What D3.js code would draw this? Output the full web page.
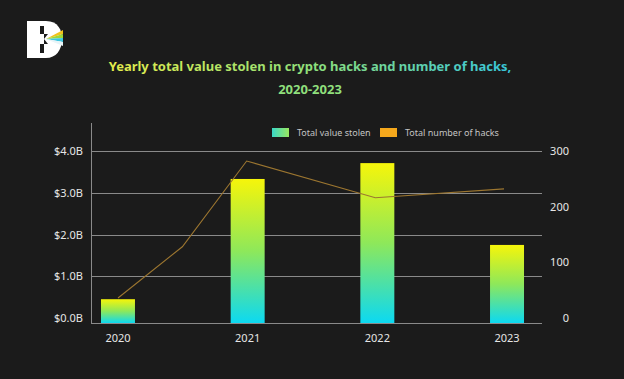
<!DOCTYPE html>
<html lang="en">
<head>
<meta charset="utf-8">
<title>Crypto hacks 2020-2023</title>
<script src="https://cdn.jsdelivr.net/npm/d3@7"></script>
<style>
body{
  margin: 0;
  background: #1b1b1b;
}
svg text{
  font-family: "Noto Sans", sans-serif;
}
.axis text{
  fill: #e6e6e6;
  font-size: 11px;
}
.axis path, .axis line{
  stroke: none;
}
.grid line{
  stroke: #8a8a8a;
  stroke-width: 1;
}
</style>
</head>
<body>
<div id="chart"></div>
<script>
// data
var years = ["2020", "2021", "2022", "2023"];
var valueStolen = [0.45, 3.33, 3.71, 1.75];          // billions USD
var hackYears = [2020, 2020.5, 2021, 2022, 2023];
var hackCounts = [36, 128, 282, 216, 232];
var leftTicks = [0, 1, 2, 3, 4];
var rightTicks = [0, 100, 200, 300];

var W = 624, H = 379;
var baseY = 323;

var svg = d3.select("#chart").append("svg")
  .attr("width", W)
  .attr("height", H);

svg.append("rect").attr("width", W).attr("height", H).attr("fill", "#1b1b1b");

var defs = svg.append("defs");
var barGrad = defs.append("linearGradient")
  .attr("id", "barGrad")
  .attr("x1", 0).attr("y1", 0).attr("x2", 0).attr("y2", 1);
barGrad.append("stop").attr("offset", "0%").attr("stop-color", "#f6f50a");
barGrad.append("stop").attr("offset", "50%").attr("stop-color", "#8ee85a");
barGrad.append("stop").attr("offset", "100%").attr("stop-color", "#0cd9f2");

var legGrad = defs.append("linearGradient")
  .attr("id", "legGrad")
  .attr("x1", 0).attr("y1", 0).attr("x2", 1).attr("y2", 0);
legGrad.append("stop").attr("offset", "0%").attr("stop-color", "#3ad8c8");
legGrad.append("stop").attr("offset", "100%").attr("stop-color", "#9ae860");

var titleGrad = defs.append("linearGradient")
  .attr("id", "titleGrad")
  .attr("gradientUnits", "userSpaceOnUse")
  .attr("x1", 109).attr("y1", 0).attr("x2", 510).attr("y2", 0);
titleGrad.append("stop").attr("offset", "0%").attr("stop-color", "#e6ec4a");
titleGrad.append("stop").attr("offset", "50%").attr("stop-color", "#8fe07a");
titleGrad.append("stop").attr("offset", "100%").attr("stop-color", "#38c6dc");

// logo
var logo = svg.append("g");
logo.append("path")
  .attr("d", "M27,21 H46 C58,21 62,30 62,39 C62,50 56,58 46,58 H27 Z")
  .attr("fill", "#ffffff");
logo.append("rect").attr("x", 40).attr("y", 26).attr("width", 4).attr("height", 8).attr("fill", "#1b1b1b");
logo.append("rect").attr("x", 40).attr("y", 44).attr("width", 4).attr("height", 9).attr("fill", "#1b1b1b");
logo.append("path").attr("d", "M44,34 H48 L44,39 Z").attr("fill", "#1b1b1b");
logo.append("path").attr("d", "M44,44 H48 L44,39 Z").attr("fill", "#1b1b1b");
var wedge = [["#f2c21a", 30, 34], ["#9ed83a", 34, 38], ["#3cc6e0", 38, 42], ["#e8f4f8", 42, 46]];
wedge.forEach(function (w) {
  logo.append("path")
    .attr("d", "M46,39 L63," + w[1] + " L63," + w[2] + " Z")
    .attr("fill", w[0]);
});

// title
svg.append("text")
  .attr("x", 310).attr("y", 71)
  .attr("text-anchor", "middle")
  .attr("font-size", "13px").attr("font-weight", "bold")
  .attr("fill", "url(#titleGrad)")
  .text("Yearly total value stolen in crypto hacks and number of hacks,");
svg.append("text")
  .attr("x", 310).attr("y", 94)
  .attr("text-anchor", "middle")
  .attr("font-size", "13px").attr("font-weight", "bold")
  .attr("fill", "#8fdf7c")
  .text("2020-2023");

// scales
var x = d3.scaleBand()
  .domain(years)
  .range([53, 572])
  .paddingInner(0.738)
  .paddingOuter(0.37);
var xl = d3.scaleLinear().domain([2020, 2023]).range([118, 504]);
var yL = d3.scaleLinear().domain([0, 4]).range([318, 151]);
var yR = d3.scaleLinear().domain([0, 300]).range([318, 151]);

// gridlines
svg.append("g").attr("class", "grid")
  .selectAll("line").data(leftTicks.slice(1))
  .enter().append("line")
  .attr("x1", 91).attr("x2", 542)
  .attr("y1", function (d) { return Math.round(yL(d)) + 0.5; })
  .attr("y2", function (d) { return Math.round(yL(d)) + 0.5; });

// bars
svg.selectAll("rect.bar").data(valueStolen)
  .enter().append("rect")
  .attr("class", "bar")
  .attr("x", function (d, i) { return x(years[i]); })
  .attr("width", x.bandwidth())
  .attr("y", function (d) { return yL(d); })
  .attr("height", function (d) { return baseY - yL(d); })
  .attr("fill", "url(#barGrad)");

// frame lines
svg.append("line").attr("x1", 91.5).attr("x2", 91.5).attr("y1", 123).attr("y2", baseY)
  .attr("stroke", "#8a8a8a");
svg.append("line").attr("x1", 91).attr("x2", 542).attr("y1", baseY + 0.5).attr("y2", baseY + 0.5)
  .attr("stroke", "#8a8a8a");

// hacks line
var line = d3.line()
  .x(function (d, i) { return xl(hackYears[i]); })
  .y(function (d) { return yR(d); });
svg.append("path")
  .datum(hackCounts)
  .attr("d", line)
  .attr("fill", "none")
  .attr("stroke", "#9c7630")
  .attr("stroke-width", 1.1);

// axes
svg.append("g").attr("class", "axis")
  .attr("transform", "translate(86,0)")
  .call(d3.axisLeft(yL).tickValues(leftTicks).tickSize(0)
    .tickFormat(function (d) { return "$" + d3.format(".1f")(d) + "B"; }));
svg.append("g").attr("class", "axis")
  .attr("transform", "translate(572,0)")
  .call(d3.axisLeft(yR).tickValues(rightTicks).tickSize(0));
svg.append("g").attr("class", "axis")
  .attr("transform", "translate(0," + (baseY + 8) + ")")
  .call(d3.axisBottom(x).tickSize(0));

// legend
var legend = [["Total value stolen", "url(#legGrad)", 272], ["Total number of hacks", "#f5a81c", 380]];
var lg = svg.selectAll("g.leg").data(legend).enter().append("g").attr("class", "leg");
lg.append("rect")
  .attr("x", function (d) { return d[2]; }).attr("y", 128)
  .attr("width", 17).attr("height", 9)
  .attr("fill", function (d) { return d[1]; });
lg.append("text")
  .attr("x", function (d) { return d[2] + 25; }).attr("y", 136)
  .attr("font-size", "9px").attr("fill", "#c4c4c4")
  .text(function (d) { return d[0]; });
</script>
</body>
</html>
